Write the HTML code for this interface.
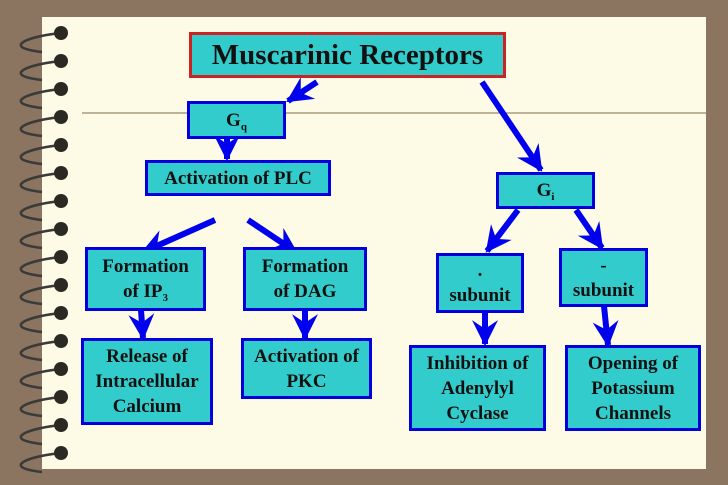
<!DOCTYPE html>
<html><head><meta charset="utf-8"><style>
body{margin:0;width:728px;height:485px;background:#8b7560;position:relative;overflow:hidden;font-family:"Liberation Serif",serif;}
#paper{position:absolute;left:42px;top:17px;width:664px;height:452px;background:#fdfae6;}
.b{position:absolute;background:#33cccc;border:3px solid #0000dd;box-sizing:border-box;color:#111;font-weight:bold;font-size:19px;line-height:25px;text-align:center;display:flex;align-items:center;justify-content:center;}
sub{font-size:11px;vertical-align:-4px;line-height:0}
svg{position:absolute;left:0;top:0}
</style></head><body>
<div id="paper"></div>
<svg width="728" height="485">
<line x1="82" y1="113" x2="706" y2="113" stroke="#7a6a4a" stroke-width="1"/>
<g fill="none" stroke="#3a3a3a" stroke-width="2.5">
<path d="M60 33 C20 38,5 48,42 52"/><path d="M60 61 C20 66,5 76,42 80"/><path d="M60 89 C20 94,5 104,42 108"/><path d="M60 117 C20 122,5 132,42 136"/><path d="M60 145 C20 150,5 160,42 164"/><path d="M60 173 C20 178,5 188,42 192"/><path d="M60 201 C20 206,5 216,42 220"/><path d="M60 229 C20 234,5 244,42 248"/><path d="M60 257 C20 262,5 272,42 276"/><path d="M60 285 C20 290,5 300,42 304"/><path d="M60 313 C20 318,5 328,42 332"/><path d="M60 341 C20 346,5 356,42 360"/><path d="M60 369 C20 374,5 384,42 388"/><path d="M60 397 C20 402,5 412,42 416"/><path d="M60 425 C20 430,5 440,42 444"/><path d="M60 453 C20 458,5 468,42 472"/>
</g>
<g fill="#2a2a22"><circle cx="61" cy="33" r="7"/><circle cx="61" cy="61" r="7"/><circle cx="61" cy="89" r="7"/><circle cx="61" cy="117" r="7"/><circle cx="61" cy="145" r="7"/><circle cx="61" cy="173" r="7"/><circle cx="61" cy="201" r="7"/><circle cx="61" cy="229" r="7"/><circle cx="61" cy="257" r="7"/><circle cx="61" cy="285" r="7"/><circle cx="61" cy="313" r="7"/><circle cx="61" cy="341" r="7"/><circle cx="61" cy="369" r="7"/><circle cx="61" cy="397" r="7"/><circle cx="61" cy="425" r="7"/><circle cx="61" cy="453" r="7"/></g>
<defs><marker id="a" markerUnits="userSpaceOnUse" markerWidth="26" markerHeight="26" refX="22" refY="12" orient="auto" viewBox="0 0 24 24"><path d="M0 0 L24 12 L0 24 L8 12 z" fill="#0000ee"/></marker></defs>
<g stroke="#0000ee" stroke-width="6" marker-end="url(#a)">
<line x1="317" y1="82" x2="288" y2="101"/>
<line x1="482" y1="82" x2="541" y2="170"/>
<line x1="227" y1="138" x2="227" y2="159"/>
<line x1="215" y1="220" x2="143" y2="252"/>
<line x1="248" y1="220" x2="296" y2="252"/>
<line x1="518" y1="210" x2="487" y2="251"/>
<line x1="576" y1="210" x2="602" y2="248"/>
<line x1="141" y1="310" x2="143" y2="338"/>
<line x1="305" y1="310" x2="305" y2="338"/>
<line x1="485" y1="312" x2="485" y2="344"/>
<line x1="604" y1="306" x2="608" y2="345"/>
</g>
</svg>
<div class="b" style="left:189px;top:32px;width:317px;height:46px;border-color:#cc2222;font-size:29px;line-height:32px">Muscarinic Receptors</div>
<div class="b" style="left:187px;top:101px;width:99px;height:38px"><span>G<sub>q</sub></span></div>
<div class="b" style="left:145px;top:160px;width:186px;height:36px"><span>Activation of PLC</span></div>
<div class="b" style="left:496px;top:172px;width:99px;height:37px"><span>G<sub>i</sub></span></div>
<div class="b" style="left:85px;top:247px;width:121px;height:64px"><span>Formation<br>of IP<sub>3</sub></span></div>
<div class="b" style="left:243px;top:247px;width:124px;height:64px"><span>Formation<br>of DAG</span></div>
<div class="b" style="left:436px;top:253px;width:88px;height:60px"><span>.<br>subunit</span></div>
<div class="b" style="left:559px;top:248px;width:89px;height:59px"><span><span style="line-height:14px">-</span><br>subunit</span></div>
<div class="b" style="left:81px;top:338px;width:132px;height:87px"><span>Release of<br>Intracellular<br>Calcium</span></div>
<div class="b" style="left:241px;top:338px;width:131px;height:61px"><span>Activation of<br>PKC</span></div>
<div class="b" style="left:409px;top:345px;width:137px;height:86px"><span>Inhibition of<br>Adenylyl<br>Cyclase</span></div>
<div class="b" style="left:565px;top:345px;width:136px;height:86px"><span>Opening of<br>Potassium<br>Channels</span></div>
</body></html>
